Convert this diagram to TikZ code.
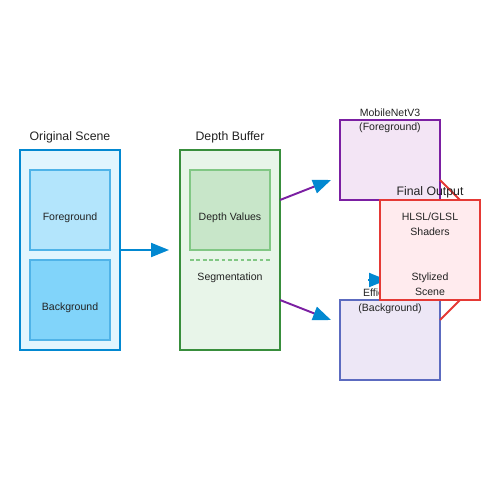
\documentclass[tikz,border=0pt]{standalone}
\usepackage{fontspec}
\setmainfont{Liberation Sans}
\usetikzlibrary{arrows.meta}
\definecolor{sceneFill}{HTML}{E1F5FE}
\definecolor{sceneLine}{HTML}{0288D1}
\definecolor{fgFill}{HTML}{B3E5FC}
\definecolor{bgFill}{HTML}{81D4FA}
\definecolor{innerBlue}{HTML}{4FB3E8}
\definecolor{depthFill}{HTML}{E8F5E9}
\definecolor{depthLine}{HTML}{388E3C}
\definecolor{dvFill}{HTML}{C8E6C9}
\definecolor{dvLine}{HTML}{81C784}
\definecolor{mobFill}{HTML}{F3E5F5}
\definecolor{mobLine}{HTML}{7B1FA2}
\definecolor{effFill}{HTML}{EDE7F6}
\definecolor{effLine}{HTML}{5C6BC0}
\definecolor{outFill}{HTML}{FFEBEE}
\definecolor{outLine}{HTML}{E53935}
\definecolor{txt}{HTML}{222222}
\begin{document}
\begin{tikzpicture}[x=0.02cm,y=-0.02cm,
  box/.style={rectangle, draw, inner sep=0pt, line width=1.1pt},
  inbox/.style={rectangle, draw, inner sep=0pt, line width=0.6pt},
  ttl/.style={text=txt, inner sep=0pt, anchor=base, font=\fontsize{7}{8}\selectfont},
  lbl/.style={text=txt, inner sep=0pt, anchor=base, font=\fontsize{6.0}{7}\selectfont},
  bluetip/.style={-{Triangle[length=0.36cm,width=0.28cm,color=sceneLine,fill=sceneLine]}, line width=1.1pt},
]
\useasboundingbox (0,0) rectangle (500,500);
% Original scene
\node[box, draw=sceneLine, fill=sceneFill, minimum width=2cm, minimum height=4cm] (scene) at (70,250) {};
\node[ttl] (sceneT) at (70,140) {Original Scene};
\node[inbox, draw=innerBlue, fill=fgFill, minimum width=1.6cm, minimum height=1.6cm] (fg) at (70,210) {};
\node[lbl] (fgT) at (70,220) {Foreground};
\node[inbox, draw=innerBlue, fill=bgFill, minimum width=1.6cm, minimum height=1.6cm] (bg) at (70,300) {};
\node[lbl] (bgT) at (70,310) {Background};
% Depth buffer
\node[box, draw=depthLine, fill=depthFill, minimum width=2cm, minimum height=4cm] (depth) at (230,250) {};
\node[ttl] (depthT) at (230,140) {Depth Buffer};
\node[inbox, draw=dvLine, fill=dvFill, minimum width=1.6cm, minimum height=1.6cm] (dv) at (230,210) {};
\node[lbl] (dvT) at (230,220) {Depth Values};
\coordinate (dashL) at (190,260);
\coordinate (dashR) at (270,260);
\draw[dvLine, line width=0.6pt, dash pattern=on 2.2pt off 1.4pt] (dashL) -- (dashR);
\node[lbl] (segT) at (230,280) {Segmentation};
% arrow scene -> depth
\draw[bluetip, sceneLine, shorten >=0.2cm] (scene.east) -- (depth.west);
% models
\node[box, draw=mobLine, fill=mobFill, minimum width=2cm, minimum height=1.6cm] (mob) at (390,160) {};
\node[lbl] (mobT) at (390,116) {MobileNetV3};
\node[lbl] (mobT2) at (390,131) {(Foreground)};
\node[box, draw=effLine, fill=effFill, minimum width=2cm, minimum height=1.6cm] (eff) at (390,340) {};
\node[lbl] (effT) at (390,296) {EfficientNet};
\node[lbl] (effT2) at (390,311) {(Background)};
% depth -> models
\coordinate (d1) at (280,200);
\coordinate (d2) at (280,300);
\coordinate (m1) at (331,180);
\coordinate (m2) at (331,320);
\draw[bluetip, mobLine] (d1) -- (m1);
\draw[bluetip, mobLine] (d2) -- (m2);
% hidden arrow tip
\coordinate (h1) at (368,280);
\coordinate (h2) at (387,280);
\draw[bluetip, sceneLine] (h1) -- (h2);
% red connectors
\coordinate (r1) at (440,180);
\coordinate (r2) at (460,200);
\coordinate (r3) at (460,300);
\coordinate (r4) at (440,320);
\draw[outLine, line width=1.1pt] (r1) -- (r2);
\draw[outLine, line width=1.1pt] (r3) -- (r4);
% final output
\node[box, draw=outLine, fill=outFill, minimum width=2cm, minimum height=2cm] (out) at (430,250) {};
\node[ttl] (outT) at (430,195) {Final Output};
\node[lbl] (outT1) at (430,220) {HLSL/GLSL};
\node[lbl] (outT2) at (430,235) {Shaders};
\node[lbl] (outT3) at (430,280) {Stylized};
\node[lbl] (outT4) at (430,295) {Scene};
\end{tikzpicture}
\end{document}
